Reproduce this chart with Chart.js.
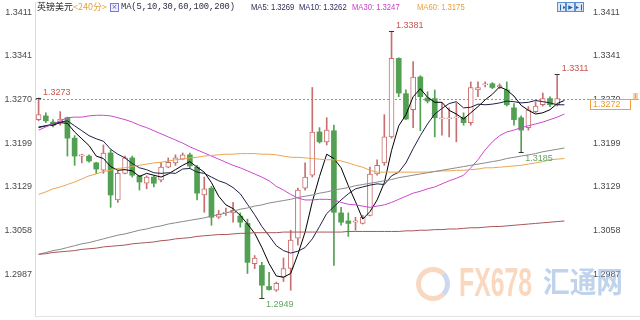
<!DOCTYPE html>
<html><head><meta charset="utf-8">
<script src="https://cdn.jsdelivr.net/npm/chart.js@4.4.1/dist/chart.umd.min.js"></script>
<style>
html,body{margin:0;padding:0;background:#fff;}
#wrap{position:relative;width:640px;height:320px;overflow:hidden;background:#fff;}
#c{position:absolute;left:0;top:0;}
.t{position:absolute;white-space:nowrap;line-height:1;top:3px;}
.cn{font-family:'Noto Sans CJK SC',sans-serif;font-size:9px;top:2px;}
.mono{font-family:'Liberation Mono','DejaVu Sans Mono',monospace;font-size:8.8px;letter-spacing:-0.1px;}
.ma{font-family:'Liberation Sans',Arial,sans-serif;font-size:9px;transform:scaleX(0.85);transform-origin:left top;}
.btn{position:absolute;top:2px;width:7px;height:8px;border:1px solid #5b8fd0;background:#dde9f8;font-size:6px;line-height:8px;text-align:center;color:#2a5fa8;font-family:'DejaVu Sans',sans-serif;overflow:hidden;}
.wm{position:absolute;font-weight:bold;white-space:nowrap;line-height:1;transform-origin:left top;}
</style></head><body>
<div id="wrap">
<canvas id="c" width="640" height="320"></canvas>
<div class="t cn" style="left:37px;color:#222;">英镑美元</div>
<div class="t cn" style="left:73px;color:#e2a23e;">&lt;240分&gt;</div>
<div style="position:absolute;left:110px;top:3px;width:7px;height:7px;border:1px solid #7a7ac8;background:#eef;font:7px/7px 'DejaVu Sans';color:#5a5ab0;text-align:center;">×</div>
<div class="t mono" style="left:121px;color:#2c2c44;">MA(5,10,30,60,100,200)</div>
<div class="t ma" style="left:251px;color:#2c2c50;">MA5: 1.3269</div>
<div class="t ma" style="left:299px;color:#2c2c60;">MA10: 1.3262</div>
<div class="t ma" style="left:352px;color:#c840c8;">MA30: 1.3247</div>
<div class="t ma" style="left:417px;color:#e8a040;">MA60: 1.3175</div>
<div class="btn" style="left:557px;">❙▸</div>
<div class="btn" style="left:566px;">▶</div>
<div class="btn" style="left:575px;">▸❙</div>
<div style="position:absolute;left:416px;top:267px;width:24px;height:24px;border-radius:50%;border:5px solid rgba(243,170,120,0.45);border-right-color:rgba(150,180,220,0.5);"></div>
<div class="wm" style="left:459px;top:262px;font-family:'Liberation Sans',Arial,sans-serif;font-size:40px;color:rgba(246,178,130,0.5);transform:scaleX(0.62);">FX678</div>
<div class="wm" style="left:543px;top:266px;font-family:'Noto Sans CJK SC',sans-serif;font-size:29px;color:rgba(150,182,224,0.6);transform:scaleX(0.92);">汇通网</div>
</div>
<script>
// ---- data ----
const periods = ['1','2','3','4','5','6','7','8','9','10','11','12','13','14','15','16','17','18','19','20','21','22','23','24','25','26','27','28','29','30','31','32','33','34','35','36','37','38','39','40','41','42','43','44','45','46','47','48','49','50','51','52','53','54','55','56','57','58','59','60','61','62','63','64','65','66','67','68','69','70','71','72','73','74'];
const opens = [1.3238,1.3244,1.3234,1.3233,1.3241,1.3208,1.3179,1.3179,1.3168,1.3156,
 1.3184,1.3108,1.3151,1.3176,1.3147,1.3135,1.3145,1.3140,1.3161,1.3168,
 1.3174,1.3181,1.3161,1.3116,1.3127,1.3080,1.3087,1.3087,1.3082,1.3070,
 1.3005,1.3002,1.2968,1.2962,1.2983,1.2997,1.3046,1.3127,1.3148,1.3218,
 1.3202,1.3220,1.3087,1.3074,1.3072,1.3070,1.3083,1.3150,1.3168,1.3210,
 1.3337,1.3280,1.3254,1.3307,1.3273,1.3272,1.3239,1.3239,1.3241,1.3242,
 1.3233,1.3286,1.3294,1.3296,1.3291,1.3286,1.3257,1.3241,1.3225,1.3251,
 1.3262,1.3272,1.3262,null];
const closes = [1.3246,1.3236,1.3229,1.3239,1.3208,1.3179,1.3181,1.3171,1.3158,1.3184,
 1.3116,1.3151,1.3176,1.3148,1.3137,1.3145,1.3135,1.3161,1.3169,1.3176,
 1.3181,1.3163,1.3119,1.3126,1.3080,1.3085,1.3088,1.3091,1.3072,1.3007,
 1.3014,1.2970,1.2963,1.2973,1.2997,1.3043,1.3124,1.3145,1.3218,1.3202,
 1.3221,1.3088,1.3072,1.3070,1.3074,1.3080,1.3150,1.3164,1.3210,1.3337,
 1.3281,1.3239,1.3307,1.3275,1.3268,1.3241,1.3241,1.3241,1.3242,1.3233,
 1.3290,1.3290,1.3296,1.3290,1.3293,1.3262,1.3238,1.3221,1.3254,1.3260,
 1.3272,1.3262,1.3272,null];
const highs = [1.3273,1.3249,1.3238,1.3251,1.3242,1.3212,1.3182,1.3181,1.3169,1.3197,
 1.3189,1.3155,1.3179,1.3179,1.3148,1.3147,1.3147,1.3169,1.3176,1.3181,
 1.3184,1.3184,1.3164,1.3145,1.3130,1.3091,1.3095,1.3104,1.3087,1.3077,
 1.3018,1.3007,1.2991,1.2975,1.3014,1.3059,1.3127,1.3168,1.3290,1.3225,
 1.3241,1.3229,1.3096,1.3087,1.3080,1.3083,1.3161,1.3173,1.3246,1.3381,
 1.3338,1.3286,1.3332,1.3309,1.3283,1.3286,1.3265,1.3257,1.3265,1.3249,
 1.3299,1.3299,1.3299,1.3298,1.3296,1.3299,1.3264,1.3244,1.3259,1.3267,
 1.3281,1.3275,1.3311,null];
const lows = [1.3236,1.3233,1.3226,1.3229,1.3179,1.3164,1.3168,1.3169,1.3151,1.3151,
 1.3096,1.3104,1.3150,1.3145,1.3124,1.3126,1.3129,1.3137,1.3160,1.3164,
 1.3173,1.3160,1.3108,1.3088,1.3067,1.3078,1.3083,1.3072,1.3064,1.2989,
 1.2997,1.2949,1.2962,1.2960,1.2976,1.2962,1.3035,1.3124,1.3145,1.3200,
 1.3197,1.3002,1.3067,1.3049,1.3059,1.3069,1.3082,1.3148,1.3164,1.3208,
 1.3275,1.3238,1.3225,1.3220,1.3265,1.3210,1.3213,1.3210,1.3202,1.3229,
 1.3229,1.3275,1.3291,1.3288,1.3288,1.3260,1.3229,1.3185,1.3221,1.3249,
 1.3260,1.3259,1.3260,null];
const ma5 = [1.3226,1.3228,1.3229,1.3233,1.3232,1.3218,1.3207,1.3196,1.3179,1.3175,
 1.3162,1.3156,1.3157,1.3155,1.3146,1.3151,1.3148,1.3145,1.3150,1.3157,
 1.3164,1.3170,1.3161,1.3153,1.3136,1.3114,1.3100,1.3094,1.3083,1.3069,
 1.3054,1.3031,1.3005,1.2985,1.2983,1.2989,1.3020,1.3056,1.3105,1.3146,
 1.3182,1.3175,1.3160,1.3131,1.3105,1.3077,1.3089,1.3108,1.3136,1.3188,
 1.3228,1.3246,1.3275,1.3288,1.3274,1.3266,1.3266,1.3253,1.3247,1.3239,
 1.3249,1.3259,1.3270,1.3279,1.3291,1.3286,1.3276,1.3261,1.3253,1.3247,
 1.3249,1.3254,1.3264,1.3269];
const ma10 = [1.3225,1.3228,1.3231,1.3234,1.3236,1.3228,1.3220,1.3212,1.3207,1.3203,
 1.3190,1.3182,1.3176,1.3167,1.3160,1.3157,1.3152,1.3151,1.3152,1.3151,
 1.3158,1.3159,1.3153,1.3151,1.3145,1.3139,1.3135,1.3128,1.3118,1.3101,
 1.3084,1.3065,1.3050,1.3034,1.3026,1.3022,1.3025,1.3031,1.3045,1.3065,
 1.3086,1.3097,1.3108,1.3118,1.3126,1.3129,1.3132,1.3134,1.3133,1.3147,
 1.3153,1.3168,1.3191,1.3212,1.3231,1.3247,1.3256,1.3264,1.3267,1.3257,
 1.3258,1.3263,1.3262,1.3263,1.3265,1.3268,1.3267,1.3265,1.3266,1.3269,
 1.3267,1.3265,1.3262,1.3262];
const ma30 = [1.3221,1.3226,1.3231,1.3236,1.3241,1.3242,1.3242,1.3244,1.3245,1.3245,
 1.3244,1.3241,1.3238,1.3234,1.3229,1.3225,1.3220,1.3215,1.3210,1.3205,
 1.3200,1.3194,1.3189,1.3184,1.3179,1.3174,1.3169,1.3164,1.3160,1.3155,
 1.3150,1.3145,1.3139,1.3130,1.3124,1.3117,1.3111,1.3108,1.3108,1.3109,
 1.3109,1.3108,1.3104,1.3101,1.3100,1.3098,1.3096,1.3098,1.3100,1.3104,
 1.3109,1.3114,1.3119,1.3122,1.3126,1.3129,1.3134,1.3139,1.3143,1.3148,
 1.3160,1.3173,1.3189,1.3202,1.3212,1.3218,1.3221,1.3225,1.3228,1.3231,
 1.3234,1.3238,1.3242,1.3247];
const ma60 = [1.3117,1.3121,1.3126,1.3129,1.3133,1.3137,1.3142,1.3147,1.3150,1.3154,
 1.3156,1.3159,1.3160,1.3162,1.3164,1.3166,1.3168,1.3169,1.3171,1.3173,
 1.3174,1.3176,1.3177,1.3179,1.3180,1.3181,1.3182,1.3182,1.3183,1.3183,
 1.3183,1.3182,1.3182,1.3181,1.3179,1.3177,1.3177,1.3176,1.3175,1.3174,
 1.3173,1.3173,1.3171,1.3168,1.3164,1.3161,1.3156,1.3153,1.3153,1.3153,
 1.3153,1.3153,1.3153,1.3153,1.3153,1.3154,1.3155,1.3155,1.3156,1.3156,
 1.3157,1.3158,1.3160,1.3160,1.3161,1.3162,1.3163,1.3164,1.3166,1.3168,
 1.3170,1.3173,1.3174,1.3175];
const ma100 = [1.3020,1.3023,1.3026,1.3028,1.3031,1.3034,1.3037,1.3039,1.3042,1.3045,
 1.3048,1.3051,1.3053,1.3056,1.3059,1.3061,1.3064,1.3066,1.3069,1.3071,
 1.3073,1.3075,1.3077,1.3079,1.3082,1.3084,1.3087,1.3090,1.3093,1.3095,
 1.3098,1.3100,1.3103,1.3105,1.3107,1.3109,1.3112,1.3114,1.3116,1.3119,
 1.3121,1.3124,1.3126,1.3128,1.3131,1.3133,1.3135,1.3137,1.3139,1.3141,
 1.3144,1.3146,1.3148,1.3150,1.3152,1.3154,1.3156,1.3158,1.3160,1.3162,
 1.3164,1.3166,1.3168,1.3170,1.3172,1.3175,1.3177,1.3179,1.3181,1.3183,
 1.3186,1.3188,1.3190,1.3192];
const ma200 = [1.3020,1.3021,1.3023,1.3024,1.3025,1.3026,1.3028,1.3029,1.3030,1.3032,
 1.3033,1.3034,1.3035,1.3037,1.3038,1.3039,1.3040,1.3042,1.3043,1.3045,
 1.3046,1.3047,1.3049,1.3050,1.3051,1.3052,1.3052,1.3053,1.3054,1.3054,
 1.3055,1.3055,1.3055,1.3055,1.3056,1.3056,1.3056,1.3056,1.3056,1.3056,
 1.3056,1.3056,1.3056,1.3057,1.3057,1.3057,1.3057,1.3057,1.3057,1.3057,
 1.3057,1.3058,1.3058,1.3059,1.3059,1.3060,1.3060,1.3061,1.3061,1.3062,
 1.3063,1.3063,1.3064,1.3065,1.3065,1.3066,1.3067,1.3068,1.3069,1.3070,
 1.3071,1.3072,1.3073,1.3074];
const tickValues = [1.2987,1.3058,1.3129,1.3199,1.3270,1.3341,1.3411];
const lastPrice = 1.3272;
// extreme-value marks: [candle index, 'high' | 'low']
const marks = [[0,'high'],[49,'high'],[31,'low'],[72,'high'],[67,'low']];

// ---- styles ----
const UP = '#c96f6f', DOWN = '#52a052';
const Y_MIN = 1.29202, Y_MAX = 1.34283;

const wickData = lows.map((l,i)=> l==null?null:[l, highs[i]]);
const upBody = opens.map((o,i)=> o==null?null:(closes[i]>=o?[o,closes[i]]:null));
const downBody = opens.map((o,i)=> o==null?null:(closes[i]<o?[o,closes[i]]:null));
const wickColors = opens.map((o,i)=> (o!=null && closes[i]>=o)?UP:DOWN);

function lineDs(data,color,order){
  return {type:'line',data,borderColor:color,borderWidth:1,pointRadius:0,tension:0,fill:false,order,yAxisID:'y'};
}

const decor = {
  id:'decor',
  beforeDatasetsDraw(chart){
    const {ctx, chartArea:a, scales:{y}} = chart;
    const py = Math.round(y.getPixelForValue(lastPrice))+0.5;
    ctx.save();
    ctx.strokeStyle='#7f98c0'; ctx.lineWidth=1; ctx.setLineDash([2,2]);
    ctx.beginPath(); ctx.moveTo(a.left,py); ctx.lineTo(589,py); ctx.stroke();
    ctx.restore();
  },
  afterDatasetsDraw(chart){
    const {ctx, scales:{x,y}} = chart;
    ctx.save();
    ctx.font = "9px 'Liberation Sans', Arial, sans-serif";
    ctx.textBaseline='middle'; ctx.textAlign='left';
    marks.forEach(([i,kind])=>{
      const v = kind==='high'?highs[i]:lows[i];
      const px = x.getPixelForValue(i);
      const py = y.getPixelForValue(v);
      ctx.strokeStyle='#333'; ctx.lineWidth=1;
      ctx.beginPath(); ctx.moveTo(px-2.5, Math.round(py)+0.5); ctx.lineTo(px+2.5, Math.round(py)+0.5); ctx.stroke();
      if(kind==='high'){
        ctx.fillStyle='#c8554f';
        ctx.fillText(v.toFixed(4), px+4.5, py-5.5);
      } else {
        ctx.fillStyle='#62a662';
        ctx.fillText(v.toFixed(4), px+4, py+6.5);
      }
    });
    ctx.restore();
  },
  afterDraw(chart){
    const {ctx, chartArea:a, scales:{y}} = chart;
    ctx.save();
    ctx.strokeStyle='#e2e2e2'; ctx.lineWidth=1;
    ctx.beginPath(); ctx.moveTo(a.left, a.bottom+0.5); ctx.lineTo(640, a.bottom+0.5); ctx.stroke();
    const py = Math.round(y.getPixelForValue(lastPrice))+0.5;
    ctx.fillStyle='#fff'; ctx.fillRect(590,py,40,10);
    ctx.strokeStyle='#f0a33a';
    ctx.strokeRect(590.5,py,40,10);
    ctx.beginPath(); ctx.moveTo(588,py); ctx.lineTo(639,py); ctx.stroke();
    ctx.fillStyle='#eb9a2e';
    ctx.font = "9px 'Liberation Sans', Arial, sans-serif";
    ctx.textBaseline='middle'; ctx.textAlign='left';
    ctx.fillText(lastPrice.toFixed(4), 593, py+5.5);
    ctx.beginPath();
    ctx.moveTo(633,py-5.5); ctx.lineTo(638,py-5.5);
    ctx.moveTo(633,py-3.5); ctx.lineTo(638,py-3.5);
    ctx.moveTo(633,py-1.5); ctx.lineTo(638,py-1.5);
    ctx.moveTo(635.5,py-6); ctx.lineTo(635.5,py-1);
    ctx.stroke();
    ctx.restore();
  }
};

const tickCfg = (pad)=>({
  padding:pad, color:'#4a4a4a', autoSkip:false,
  font:{size:9, family:"'Liberation Sans', Arial, sans-serif"},
  callback:(v)=>Number(v).toFixed(4)
});

new Chart(document.getElementById('c'), {
  type:'bar',
  data:{
    labels: periods,
    datasets:[
      lineDs(ma200,'#a95555',0),
      lineDs(ma100,'#8a8a8a',0),
      lineDs(ma60,'#eaa550',0),
      lineDs(ma30,'#cc48cc',0),
      lineDs(ma10,'#1e1e46',0),
      lineDs(ma5,'#000000',0),
      {type:'bar',data:upBody,backgroundColor:'#ffffff',borderColor:UP,borderWidth:1,borderSkipped:false,barThickness:5,grouped:false,order:1,yAxisID:'y'},
      {type:'bar',data:downBody,backgroundColor:DOWN,borderColor:DOWN,borderWidth:0,barThickness:5,grouped:false,order:1,yAxisID:'y'},
      {type:'bar',data:wickData,backgroundColor:wickColors,borderWidth:0,barThickness:1,grouped:false,order:2,yAxisID:'y'}
    ]
  },
  options:{
    responsive:false, animation:false, devicePixelRatio:1,
    layout:{padding:{top:2,bottom:4,left:0,right:0}},
    plugins:{legend:{display:false}, tooltip:{enabled:false}},
    scales:{
      x:{display:false, offset:true, grid:{display:false}},
      y:{position:'left', min:Y_MIN, max:Y_MAX,
         grid:{display:false, drawTicks:false},
         border:{display:true, color:'#dadada'},
         ticks:tickCfg(3),
         afterBuildTicks:(s)=>{ s.ticks = tickValues.map(v=>({value:v})); },
         afterFit:(s)=>{ s.width=35; s.paddingTop=0; s.paddingBottom=0; }},
      y2:{position:'right', min:Y_MIN, max:Y_MAX,
         grid:{display:false, drawTicks:false},
         border:{display:false},
         ticks:tickCfg(25),
         afterBuildTicks:(s)=>{ s.ticks = tickValues.map(v=>({value:v})); },
         afterFit:(s)=>{ s.width=72; s.paddingTop=0; s.paddingBottom=0; }}
    }
  },
  plugins:[decor]
});
</script>
</body></html>
